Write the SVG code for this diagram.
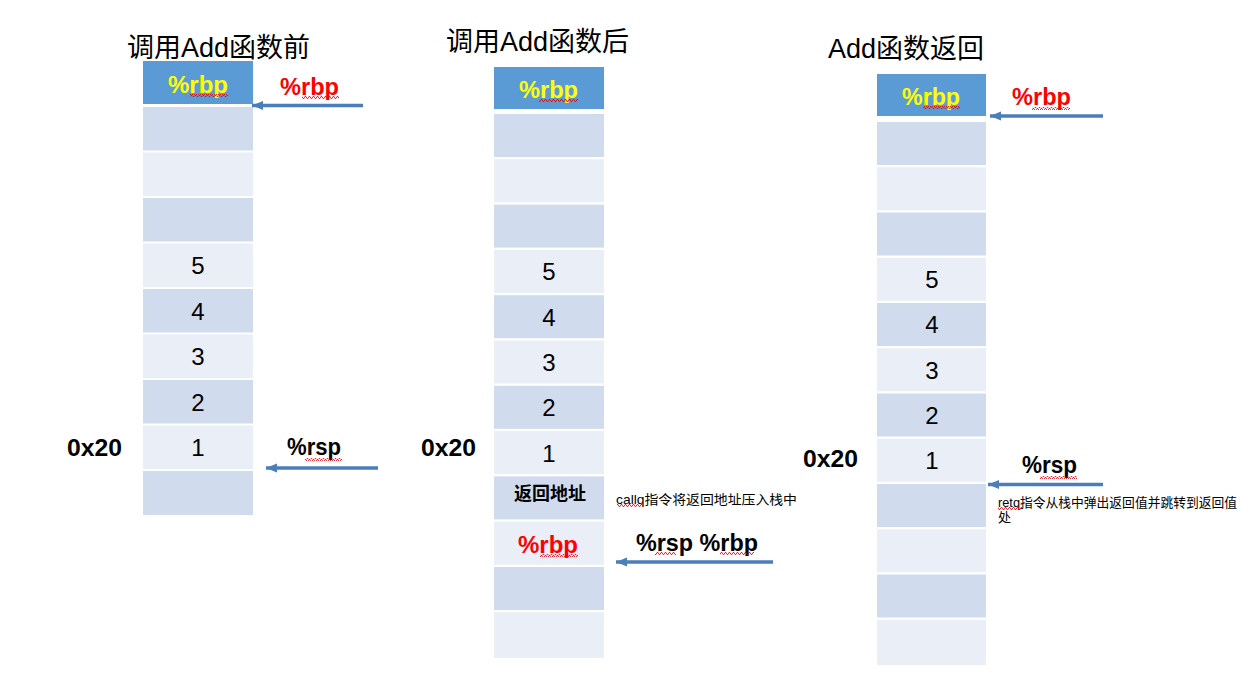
<svg xmlns="http://www.w3.org/2000/svg" width="1252" height="685" viewBox="0 0 1252 685">
<style>
.bg{fill:#ffffff}
.hd{fill:#5b9bd5}
.dk{fill:#d0dbee}
.lt{fill:#e9eef7}
.title{font-family:"Liberation Sans","Noto Sans CJK SC",sans-serif;font-size:27px;fill:#000}
.yl{font-family:"Liberation Sans",sans-serif;font-weight:bold;font-size:23px;fill:#ffff00}
.rd{font-family:"Liberation Sans",sans-serif;font-weight:bold;font-size:23px;fill:#ff0000}
.num{font-family:"Liberation Sans",sans-serif;font-size:24px;fill:#000;text-anchor:middle}
.bk{font-family:"Liberation Sans",sans-serif;font-weight:bold;font-size:23px;fill:#000}
.note{font-family:"Liberation Sans","Noto Sans CJK SC",sans-serif;font-size:13px;fill:#000}
.cjkb{font-family:"Noto Sans CJK SC",sans-serif;font-weight:bold;font-size:18px;fill:#000;text-anchor:middle}
.arr{stroke:#4a7ebb;stroke-width:3.5;fill:none}
.wv{fill:url(#wave)}
</style>
<defs>
<marker id="ah" markerUnits="userSpaceOnUse" markerWidth="12" markerHeight="10" refX="11" refY="5" orient="auto">
<path d="M0,0.5 L11,5 L0,9.5 z" fill="#4a7ebb"/>
</marker>
<pattern id="wave" width="4" height="3" patternUnits="userSpaceOnUse">
<path d="M0,2.5 L1,0.5 L2,0.5 L3,2.5 L4,2.5" stroke="#e00000" stroke-width="0.8" fill="none"/>
</pattern>
</defs>
<rect class="bg" x="0" y="0" width="1252" height="685"/>

<!-- Column 1 -->
<g id="col1">
<text class="title" x="127" y="57">调用Add函数前</text>
<g id="c1-head"><rect class="hd" x="143" y="61" width="110" height="43"/><text class="yl" x="168" y="93" textLength="60" lengthAdjust="spacingAndGlyphs">%rbp</text><rect class="wv" x="190" y="94" width="38" height="3"/></g>
<g id="c1-r0"><rect class="dk" x="143" y="107" width="110" height="43.5"/></g>
<g id="c1-r1"><rect class="lt" x="143" y="152.5" width="110" height="43.5"/></g>
<g id="c1-r2"><rect class="dk" x="143" y="198" width="110" height="43.5"/></g>
<g id="c1-r3"><rect class="lt" x="143" y="243.5" width="110" height="43.5"/><text class="num" x="198" y="274">5</text></g>
<g id="c1-r4"><rect class="dk" x="143" y="289" width="110" height="43.5"/><text class="num" x="198" y="320">4</text></g>
<g id="c1-r5"><rect class="lt" x="143" y="334.5" width="110" height="43.5"/><text class="num" x="198" y="365">3</text></g>
<g id="c1-r6"><rect class="dk" x="143" y="380" width="110" height="43.5"/><text class="num" x="198" y="411">2</text></g>
<g id="c1-r7"><rect class="lt" x="143" y="425.5" width="110" height="43.5"/><text class="num" x="198" y="456">1</text></g>
<g id="c1-r8"><rect class="dk" x="143" y="471" width="110" height="44"/></g>
<text class="bk" x="67" y="456" textLength="55" lengthAdjust="spacingAndGlyphs">0x20</text>
<g id="c1-rbp"><text class="rd" x="280" y="95" textLength="59" lengthAdjust="spacingAndGlyphs">%rbp</text><rect class="wv" x="302" y="96" width="37" height="3"/></g>
<g id="c1-rsp"><text class="bk" x="287" y="455" textLength="54" lengthAdjust="spacingAndGlyphs">%rsp</text><rect class="wv" x="305" y="458" width="37" height="3"/></g>
</g>

<!-- Column 2 -->
<g id="col2">
<text class="title" x="446" y="51">调用Add函数后</text>
<g id="c2-head"><rect class="hd" x="494" y="67" width="110" height="42"/><text class="yl" x="519" y="98" textLength="59" lengthAdjust="spacingAndGlyphs">%rbp</text><rect class="wv" x="539" y="99" width="39" height="3"/></g>
<g id="c2-r0"><rect class="dk" x="494" y="114" width="110" height="43"/></g>
<g id="c2-r1"><rect class="lt" x="494" y="159.3" width="110" height="43"/></g>
<g id="c2-r2"><rect class="dk" x="494" y="204.6" width="110" height="43"/></g>
<g id="c2-r3"><rect class="lt" x="494" y="249.9" width="110" height="43"/><text class="num" x="549" y="280">5</text></g>
<g id="c2-r4"><rect class="dk" x="494" y="295.2" width="110" height="43"/><text class="num" x="549" y="326">4</text></g>
<g id="c2-r5"><rect class="lt" x="494" y="340.5" width="110" height="43"/><text class="num" x="549" y="371">3</text></g>
<g id="c2-r6"><rect class="dk" x="494" y="385.8" width="110" height="43"/><text class="num" x="549" y="416">2</text></g>
<g id="c2-r7"><rect class="lt" x="494" y="431.1" width="110" height="43"/><text class="num" x="549" y="462">1</text></g>
<g id="c2-r8"><rect class="dk" x="494" y="476.4" width="110" height="43"/><text class="cjkb" x="550" y="500">返回地址</text></g>
<g id="c2-r9"><rect class="lt" x="494" y="521.7" width="110" height="43"/><text class="rd" x="518" y="553" textLength="60" lengthAdjust="spacingAndGlyphs">%rbp</text><rect class="wv" x="540" y="554" width="38" height="3"/></g>
<g id="c2-r10"><rect class="dk" x="494" y="567" width="110" height="43"/></g>
<g id="c2-r11"><rect class="lt" x="494" y="612.3" width="110" height="45.7"/></g>
<text class="bk" x="421" y="456" textLength="55" lengthAdjust="spacingAndGlyphs">0x20</text>
<g id="c2-note"><text class="note" x="616" y="504" font-size="14" textLength="181" lengthAdjust="spacingAndGlyphs">callq指令将返回地址压入栈中</text><rect class="wv" x="617" y="504" width="26" height="3"/></g>
<g id="c2-rsprbp"><text class="bk" x="636" y="551" textLength="122" lengthAdjust="spacingAndGlyphs">%rsp %rbp</text><rect class="wv" x="655" y="552" width="21" height="3"/><rect class="wv" x="720" y="552" width="34" height="3"/></g>
</g>

<!-- Column 3 -->
<g id="col3">
<text class="title" x="828" y="58">Add函数返回</text>
<g id="c3-head"><rect class="hd" x="877" y="74" width="109" height="42"/><text class="yl" x="902" y="105" textLength="58" lengthAdjust="spacingAndGlyphs">%rbp</text><rect class="wv" x="923" y="106" width="37" height="3"/></g>
<g id="c3-r0"><rect class="dk" x="877" y="122" width="109" height="43"/></g>
<g id="c3-r1"><rect class="lt" x="877" y="167.25" width="109" height="43"/></g>
<g id="c3-r2"><rect class="dk" x="877" y="212.5" width="109" height="43"/></g>
<g id="c3-r3"><rect class="lt" x="877" y="257.75" width="109" height="43"/><text class="num" x="932" y="288">5</text></g>
<g id="c3-r4"><rect class="dk" x="877" y="303" width="109" height="43"/><text class="num" x="932" y="333">4</text></g>
<g id="c3-r5"><rect class="lt" x="877" y="348.25" width="109" height="43"/><text class="num" x="932" y="379">3</text></g>
<g id="c3-r6"><rect class="dk" x="877" y="393.5" width="109" height="43"/><text class="num" x="932" y="424">2</text></g>
<g id="c3-r7"><rect class="lt" x="877" y="438.75" width="109" height="43"/><text class="num" x="932" y="469">1</text></g>
<g id="c3-r8"><rect class="dk" x="877" y="484" width="109" height="43"/></g>
<g id="c3-r9"><rect class="lt" x="877" y="529.25" width="109" height="43"/></g>
<g id="c3-r10"><rect class="dk" x="877" y="574.5" width="109" height="43"/></g>
<g id="c3-r11"><rect class="lt" x="877" y="619.75" width="109" height="45.25"/></g>
<text class="bk" x="803" y="467" textLength="55" lengthAdjust="spacingAndGlyphs">0x20</text>
<g id="c3-rbp"><text class="rd" x="1012" y="105" textLength="59" lengthAdjust="spacingAndGlyphs">%rbp</text><rect class="wv" x="1032" y="107" width="38" height="3"/></g>
<g id="c3-rsp"><text class="bk" x="1022" y="473" textLength="55" lengthAdjust="spacingAndGlyphs">%rsp</text><rect class="wv" x="1040" y="476" width="37" height="3"/></g>
<g id="c3-note"><text class="note" x="998" y="507" textLength="239" lengthAdjust="spacingAndGlyphs">retq指令从栈中弹出返回值并跳转到返回值</text><text class="note" x="998" y="522">处</text><rect class="wv" x="998" y="507" width="24" height="3"/></g>
</g>

<!-- Connectors -->
<g id="connectors">
<line class="arr" x1="363" y1="105.5" x2="252" y2="105.5" marker-end="url(#ah)"/>
<line class="arr" x1="378" y1="468" x2="266" y2="468" marker-end="url(#ah)"/>
<line class="arr" x1="773" y1="562" x2="616" y2="562" marker-end="url(#ah)"/>
<line class="arr" x1="1103" y1="116" x2="990" y2="116" marker-end="url(#ah)"/>
<line class="arr" x1="1103" y1="484.5" x2="988" y2="484.5" marker-end="url(#ah)"/>
</g>
</svg>
